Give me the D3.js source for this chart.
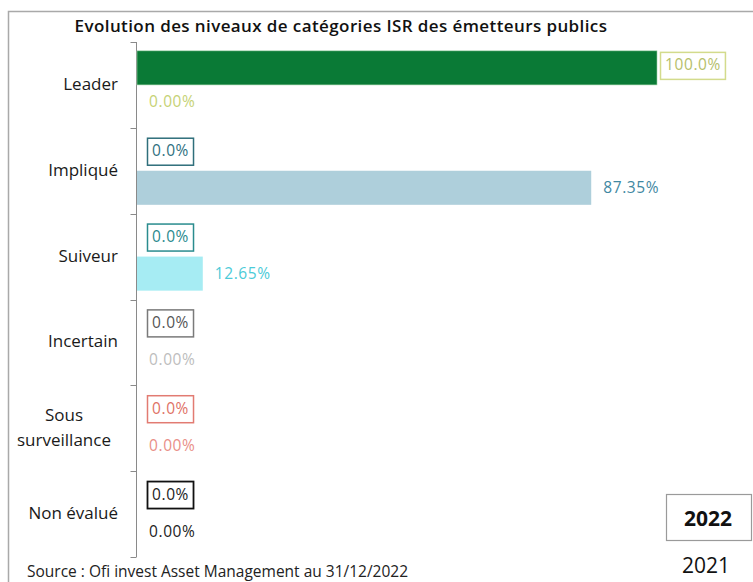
<!DOCTYPE html>
<html>
<head>
<meta charset="utf-8">
<script src="https://cdn.jsdelivr.net/npm/d3@7"></script>
<style>
  html, body { margin: 0; padding: 0; background: #fff; }
  svg { display: block; font-family: "Open Sans", sans-serif; }
</style>
</head>
<body>
<svg id="chart" width="753" height="582"></svg>
<script>
const categories = ["Leader", "Impliqué", "Suiveur", "Incertain", "Sous surveillance", "Non évalué"];
const categoryLines = [["Leader"], ["Impliqué"], ["Suiveur"], ["Incertain"], ["Sous", "surveillance"], ["Non évalué"]];
const years = ["2022", "2021"];
const values2022 = [100, 0, 0, 0, 0, 0];
const values2021 = [0, 87.35, 12.65, 0, 0, 0];
const labels2022 = ["100.0%", "0.0%", "0.0%", "0.0%", "0.0%", "0.0%"];
const labels2021 = ["0.00%", "87.35%", "12.65%", "0.00%", "0.00%", "0.00%"];
const title = "Evolution des niveaux de catégories ISR des émetteurs publics";
const source = "Source : Ofi invest Asset Management au 31/12/2022";

// colours per category
const bar2022Color = ["#0a7a36", "#0a7a36", "#0a7a36", "#0a7a36", "#0a7a36", "#0a7a36"];
const box2022Stroke = ["#d3db8c", "#2f6f7b", "#2a8c8e", "#7a7a7a", "#e27b72", "#111111"];
const box2022Text = ["#b6c06a", "#2f7080", "#2a8a8e", "#555555", "#e07266", "#222222"];
const bar2021Color = ["#c9d46e", "#aecfdb", "#a6ecf3", "#cccccc", "#eb9a93", "#333333"];
const text2021Color = ["#c6d275", "#3f88a2", "#4ccbd8", "#bdbdbd", "#e98f88", "#222222"];

const svg = d3.select("#chart");

// outer frame (top and left border)
svg.append("path")
  .attr("d", "M8.5,582 V11.5 H753")
  .attr("fill", "none").attr("stroke", "#a9a9a9").attr("stroke-width", 1.5);

// title
svg.append("text")
  .attr("x", 341).attr("y", 32)
  .attr("text-anchor", "middle")
  .attr("font-size", 17).attr("font-weight", 600).attr("fill", "#111")
  .attr("letter-spacing", 0.4)
  .text(title);

const x = d3.scaleLinear().domain([0, 100]).range([137, 657]);
const y = d3.scaleBand().domain(categories).range([42, 557]).paddingInner(0).paddingOuter(0);
const ySub = d3.scaleBand().domain(years).range([0, y.bandwidth()]).paddingInner(0).paddingOuter(0.26);

// axis line + boundary ticks
const axisG = svg.append("g").attr("transform", "translate(136.5,0)");
axisG.append("line").attr("y1", 42).attr("y2", 557).attr("stroke", "#8a8a8a").attr("stroke-width", 1);
const bounds = categories.map(c => y(c)).concat([y.range()[1]]);
axisG.selectAll("line.tick").data(bounds).join("line")
  .attr("class", "tick")
  .attr("x1", -6).attr("x2", 0)
  .attr("y1", d => Math.round(d) + 0.5).attr("y2", d => Math.round(d) + 0.5)
  .attr("stroke", "#8a8a8a");

// category labels
const catG = svg.append("g");
categories.forEach((c, i) => {
  const lines = categoryLines[i];
  const cy = y(c) + y.bandwidth() / 2;
  const lh = 25;
  const t = catG.append("text")
    .attr("font-size", 17).attr("fill", "#1a1a1a");
  lines.forEach((l, j) => {
    t.append("tspan")
      .attr("y", cy + 5 + (j - (lines.length - 1) / 2) * lh)
      .text(l);
  });
  if (lines.length > 1) {
    t.attr("text-anchor", "middle").selectAll("tspan").attr("x", 64);
  } else {
    t.attr("text-anchor", "end").selectAll("tspan").attr("x", 118);
  }
});

// bars 2022
svg.append("g").selectAll("rect").data(values2022).join("rect")
  .attr("x", x(0))
  .attr("y", (d, i) => y(categories[i]) + ySub("2022"))
  .attr("width", d => x(d) - x(0))
  .attr("height", ySub.bandwidth())
  .attr("fill", (d, i) => bar2022Color[i])
  .attr("stroke", "#9fd3a8").attr("stroke-width", 0.6);

// bars 2021
svg.append("g").selectAll("rect").data(values2021).join("rect")
  .attr("x", x(0))
  .attr("y", (d, i) => y(categories[i]) + ySub("2021"))
  .attr("width", d => x(d) - x(0))
  .attr("height", ySub.bandwidth())
  .attr("fill", (d, i) => bar2021Color[i]);

// 2022 boxed labels
const lab22 = svg.append("g");
values2022.forEach((v, i) => {
  const bx = v > 0 ? x(v) + 3 : x(0) + 10;
  const cy = y(categories[i]) + ySub("2022") + ySub.bandwidth() / 2 - 3;
  const t = lab22.append("text")
    .attr("x", bx + 5).attr("y", cy + 5.5)
    .attr("font-size", 15.5).attr("letter-spacing", 0.6).attr("fill", box2022Text[i])
    .text(labels2022[i]);
  const w = t.node().getComputedTextLength();
  lab22.insert("rect", "text")
    .attr("x", bx + 0.5).attr("y", cy - 13 + 0.5)
    .attr("width", w + 9).attr("height", 27)
    .attr("fill", "#fff")
    .attr("stroke", box2022Stroke[i]).attr("stroke-width", i === 5 ? 1.8 : 1.5);
});

// 2021 labels
svg.append("g").selectAll("text").data(values2021).join("text")
  .attr("x", d => x(d) + 12)
  .attr("y", (d, i) => y(categories[i]) + ySub("2021") + ySub.bandwidth() / 2 + 5.5)
  .attr("font-size", 15.5).attr("letter-spacing", 0.6)
  .attr("fill", (d, i) => text2021Color[i])
  .text((d, i) => labels2021[i]);

// legend
const leg = svg.append("g");
leg.append("rect").attr("x", 666.5).attr("y", 494.5).attr("width", 85).attr("height", 46)
  .attr("fill", "#fff").attr("stroke", "#9a9a9a").attr("stroke-width", 1.2);
leg.append("text").attr("x", 708).attr("y", 526).attr("text-anchor", "middle")
  .attr("font-size", 21).attr("font-weight", 700).attr("fill", "#111").text(years[0]);
leg.append("text").attr("x", 706).attr("y", 573).attr("text-anchor", "middle")
  .attr("font-size", 21).attr("fill", "#111").text(years[1]);

// source
svg.append("text").attr("x", 27).attr("y", 577)
  .attr("font-size", 15.5).attr("fill", "#222").text(source);
</script>
</body>
</html>
